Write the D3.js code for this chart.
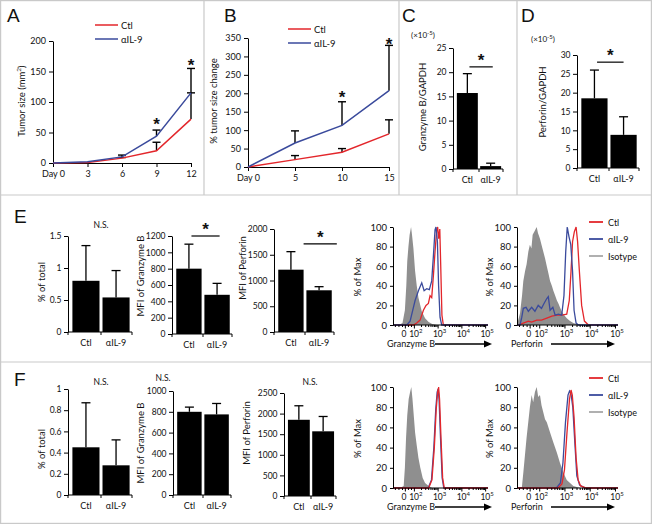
<!DOCTYPE html>
<html><head><meta charset="utf-8">
<script src="https://cdn.jsdelivr.net/npm/d3@7"></script>
<style>
body{margin:0;background:#fff}
svg{display:block}
text{font-family:Lato,'Open Sans',sans-serif;fill:#111}
</style>
</head><body><svg id="c" width="652" height="524"></svg>
<script>
// ---------- DATA ----------
const seriesNames = ["Ctl", "αIL-9", "Isotype"];
// Panel A
const daysA = [0, 3, 6, 9, 12];
const tumorCtl = [0, 1, 8, 20, 72];
const tumorCtlErr = [0, 1, 9, 34, 115];
const tumorIL9 = [0, 2, 10, 44, 115];
const tumorIL9Err = [0, 2, 13, 54, 155];
const tumorStars = [[9, 74], [12, 170]];
const tumorTicks = [0, 50, 100, 150, 200];
// Panel B
const daysB = [0, 5, 10, 15];
const pctCtl = [0, 20, 40, 90];
const pctCtlErr = [0, 31, 50, 128];
const pctIL9 = [0, 65, 113, 207];
const pctIL9Err = [0, 98, 177, 330];
const pctStars = [[10, 205], [15, 350]];
const pctTicks = [0, 50, 100, 150, 200, 250, 300, 350];
// Bar categories
const barCats = ["Ctl", "αIL-9"];
// Panel C
const gzmbGapdh = [15.7, 0.6];
const gzmbGapdhErr = [19.7, 1.2];
const gzmbGapdhTicks = [0, 5, 10, 15, 20, 25];
// Panel D
const perfGapdh = [18.5, 8.8];
const perfGapdhErr = [26, 13.6];
const perfGapdhTicks = [0, 5, 10, 15, 20, 25, 30];
// Panel E bars
const eTotal = [0.8, 0.54];
const eTotalErr = [1.35, 0.96];
const eTotalTicks = [0, 0.5, 1, 1.5];
const eGzmbMfi = [800, 480];
const eGzmbMfiErr = [1100, 620];
const gzmbMfiTicksE = [0, 200, 400, 600, 800, 1000, 1200];
const ePerfMfi = [1210, 810];
const ePerfMfiErr = [1560, 880];
const perfMfiTicksE = [0, 500, 1000, 1500, 2000];
// Panel F bars
const fTotal = [0.45, 0.28];
const fTotalErr = [0.87, 0.52];
const fTotalTicks = [0, 0.2, 0.4, 0.6, 0.8, 1];
const fGzmbMfi = [800, 775];
const fGzmbMfiErr = [845, 880];
const gzmbMfiTicksF = [0, 200, 400, 600, 800, 1000];
const fPerfMfi = [1850, 1570];
const fPerfMfiErr = [2190, 1930];
const perfMfiTicksF = [0, 500, 1000, 1500, 2000, 2500];
// Histograms: [log-display position, % of max]
const histTickPos = [1.62, 2, 3, 4, 5];
const histTickLbl = ["0", "2", "3", "4", "5"];
const histYTicks = [0, 20, 40, 60, 80, 100];
const eGzmbIso = [[1.35,0],[1.5,2],[1.6,15],[1.66,40],[1.7,65],[1.75,80],[1.8,92],[1.86,100],[1.9,92],[1.96,78],[2.03,55],[2.1,40],[2.17,28],[2.31,14],[2.45,7],[2.6,3],[2.75,1],[2.95,0]];
const eGzmbCtl = [[1.1,0],[1.96,0],[2.1,2],[2.24,5],[2.38,15],[2.49,20],[2.59,22],[2.66,30],[2.73,28],[2.8,50],[2.87,75],[2.94,97],[2.98,100],[3.02,88],[3.07,98],[3.11,60],[3.16,10],[3.22,0],[5.1,0]];
const eGzmbIL9 = [[1.1,0],[1.68,0],[1.82,4],[1.93,15],[2.03,25],[2.17,35],[2.31,43],[2.41,35],[2.52,37],[2.63,36],[2.73,45],[2.8,70],[2.87,97],[2.91,100],[2.97,85],[3.02,40],[3.08,8],[3.15,0],[5.1,0]];
const ePerfIso = [[1.09,0],[1.15,5],[1.22,12],[1.3,30],[1.35,45],[1.42,55],[1.48,62],[1.55,75],[1.61,82],[1.67,78],[1.72,92],[1.8,96],[1.88,100],[1.93,94],[2.01,88],[2.07,82],[2.14,75],[2.21,68],[2.28,60],[2.35,52],[2.41,45],[2.48,40],[2.54,35],[2.61,30],[2.68,25],[2.74,22],[2.8,18],[2.87,14],[2.94,11],[3.07,7],[3.2,4],[3.33,2],[3.46,1],[3.6,0]];
const ePerfCtl = [[1.1,0],[1.15,0],[1.35,2],[1.55,4],[1.68,3],[1.88,5],[2.07,5],[2.28,7],[2.48,9],[2.68,10],[2.87,10],[3.07,11],[3.17,25],[3.24,55],[3.3,85],[3.37,95],[3.44,100],[3.5,85],[3.57,55],[3.66,20],[3.77,4],[3.93,0],[5.1,0]];
const ePerfIL9 = [[1.1,0],[1.22,0],[1.29,8],[1.35,17],[1.46,18],[1.55,14],[1.68,18],[1.81,14],[1.94,20],[2.07,17],[2.17,22],[2.28,27],[2.34,29],[2.41,15],[2.52,18],[2.61,10],[2.74,11],[2.87,10],[2.96,30],[3.03,75],[3.09,100],[3.16,90],[3.23,82],[3.3,55],[3.36,15],[3.44,2],[3.53,0],[5.1,0]];
const fGzmbIso = [[1.4,0],[1.55,2],[1.6,20],[1.65,50],[1.7,72],[1.76,88],[1.82,95],[1.87,100],[1.92,88],[1.98,70],[2.03,55],[2.1,42],[2.17,30],[2.25,20],[2.35,10],[2.45,5],[2.6,2],[2.75,0]];
const fGzmbCtl = [[1.1,0],[2.6,0],[2.74,8],[2.84,40],[2.92,78],[2.98,95],[3.02,100],[3.06,88],[3.12,50],[3.19,10],[3.26,0],[5.1,0]];
const fGzmbIL9 = [[1.1,0],[2.58,0],[2.72,8],[2.82,40],[2.9,78],[2.96,95],[3.0,98],[3.04,88],[3.1,50],[3.17,10],[3.24,0],[5.1,0]];
const fPerfIso = [[1.29,0],[1.35,15],[1.48,50],[1.61,80],[1.68,92],[1.74,85],[1.81,95],[1.88,100],[1.94,90],[2.01,92],[2.07,82],[2.14,75],[2.21,68],[2.28,65],[2.41,55],[2.54,45],[2.68,35],[2.8,25],[2.94,15],[3.07,8],[3.2,5],[3.33,2],[3.6,0]];
const fPerfCtl = [[1.1,0],[2.72,0],[2.88,4],[2.98,18],[3.08,55],[3.18,88],[3.24,97],[3.29,92],[3.36,70],[3.44,30],[3.52,8],[3.62,2],[3.85,0],[5.1,0]];
const fPerfIL9 = [[1.1,0],[2.66,0],[2.82,5],[2.92,25],[3.02,65],[3.12,92],[3.18,96],[3.24,93],[3.31,80],[3.39,45],[3.47,12],[3.58,3],[3.8,0],[5.1,0]];

// ---------- STYLE ----------
const RED = "#e3262b", BLUE = "#3a4a9c", GRAY = "#8f8f8f", FRAME = "#c9c9c9";
const TICK_FS = 8.5;
const svg = d3.select("#c");
svg.append("rect").attr("width", 652).attr("height", 524).attr("fill", "#fff");

function styleAxis(g, fs) {
  g.select(".domain").attr("stroke", "#000").attr("stroke-width", 1);
  g.selectAll(".tick line").attr("stroke", "#000");
  g.selectAll(".tick text").attr("font-size", fs);
}
function label(x, y, txt, opts = {}) {
  const t = svg.append("text").attr("x", x).attr("y", y).text(txt)
    .attr("font-size", opts.fs || 9.5).attr("text-anchor", opts.anchor || "middle");
  return t;
}
function rotLabel(x, y, txt, fs) {
  svg.append("text").attr("transform", `translate(${x},${y}) rotate(-90)`)
    .attr("text-anchor", "middle").attr("dy", "0.35em").attr("font-size", fs || 9.5).text(txt);
}
function panelLetter(x, y, t) {
  svg.append("text").attr("x", x).attr("y", y).text(t).attr("font-size", 19)
    .style("font-family", "'Liberation Sans',Arial,sans-serif");
}
function star(x, y) {
  svg.append("text").attr("x", x).attr("y", y).attr("dy", "0.7em").attr("text-anchor", "middle")
    .attr("font-size", 17).attr("font-weight", "bold").text("*")
    .style("font-family", "'Liberation Sans',Arial,sans-serif");
}
const fmt = d => String(d);

// ---------- FRAMES ----------
const frame = svg.append("g").attr("stroke", FRAME).attr("stroke-width", 1.2).attr("fill", "none");
frame.append("rect").attr("x", 0.6).attr("y", 0.6).attr("width", 650.8).attr("height", 522.8);
[[204, 0, 204, 195], [399, 0, 399, 195], [517, 0, 517, 195], [0, 195, 652, 195], [0, 362, 652, 362]]
  .forEach(l => frame.append("line").attr("x1", l[0]).attr("y1", l[1]).attr("x2", l[2]).attr("y2", l[3]));

// ---------- LINE CHARTS ----------
function lineChart(c) {
  const x = d3.scaleLinear().domain([0, d3.max(c.days)]).range([c.x0, c.x1]);
  const y = d3.scaleLinear().domain([0, c.ymax]).range([c.yb, c.yt]);
  const gy = svg.append("g").attr("transform", `translate(${c.x0},0)`)
    .call(d3.axisLeft(y).tickValues(c.ticks).tickSize(4).tickSizeOuter(0).tickPadding(3).tickFormat(fmt));
  styleAxis(gy, 9);
  const gx = svg.append("g").attr("transform", `translate(0,${c.yb})`)
    .call(d3.axisBottom(x).tickValues(c.days).tickSize(4).tickSizeOuter(0).tickPadding(4)
      .tickFormat(d => d === 0 ? "Day 0" : d));
  styleAxis(gx, 9);
  const eb = svg.append("g").attr("stroke", "#000").attr("stroke-width", 1.4);
  [[c.ctl, c.ctlErr], [c.il9, c.il9Err]].forEach(([v, e]) => {
    c.days.forEach((d, i) => {
      if (e[i] - v[i] < 0.8) return;
      eb.append("line").attr("x1", x(d)).attr("x2", x(d)).attr("y1", y(v[i])).attr("y2", y(e[i]));
      eb.append("line").attr("x1", x(d) - 4).attr("x2", x(d) + 4).attr("y1", y(e[i])).attr("y2", y(e[i]));
    });
  });
  const line = vals => d3.line().x((d, i) => x(c.days[i])).y(d => y(d))(vals);
  svg.append("path").attr("d", line(c.ctl)).attr("fill", "none").attr("stroke", RED).attr("stroke-width", 1.5);
  svg.append("path").attr("d", line(c.il9)).attr("fill", "none").attr("stroke", BLUE).attr("stroke-width", 1.5);
  c.stars.forEach(s => star(x(s[0]), y(s[1])));
  [[RED, seriesNames[0], c.ly], [BLUE, seriesNames[1], c.ly + 14]].forEach(([col, name, yy]) => {
    svg.append("line").attr("x1", c.lx).attr("x2", c.lx + 23).attr("y1", yy).attr("y2", yy)
      .attr("stroke", col).attr("stroke-width", 1.5);
    label(c.lx + 26, yy + 3.5, name, { anchor: "start" });
  });
  if (c.ylabel) rotLabel(c.ylx, c.yly, c.ylabel);
}

lineChart({ days: daysA, ctl: tumorCtl, ctlErr: tumorCtlErr, il9: tumorIL9, il9Err: tumorIL9Err,
  stars: tumorStars, ticks: tumorTicks, ymax: 200, x0: 53, x1: 191, yb: 163, yt: 41,
  lx: 95, ly: 25, ylx: 22, yly: 101, ylabel: "" });
(() => {
  const t = svg.append("text").attr("transform", "translate(22,101) rotate(-90)")
    .attr("text-anchor", "middle").attr("dy", "0.35em").attr("font-size", 9.5);
  t.append("tspan").text("Tumor size (mm");
  t.append("tspan").attr("dy", -4).attr("font-size", 6.5).text("2");
  t.append("tspan").attr("dy", 4).text(")");
})();
lineChart({ days: daysB, ctl: pctCtl, ctlErr: pctCtlErr, il9: pctIL9, il9Err: pctIL9Err,
  stars: pctStars, ticks: pctTicks, ymax: 350, x0: 248, x1: 389, yb: 167, yt: 38,
  lx: 288, ly: 29, ylx: 214, yly: 101, ylabel: "% tumor size change" });

// ---------- BAR CHARTS ----------
function barChart(c) {
  const y = d3.scaleLinear().domain([0, c.ymax]).range([c.yb, c.yt]);
  const x = d3.scaleBand().domain(barCats).range([c.x0 + 2, c.x1]).paddingInner(c.pin ?? 0.1).paddingOuter(c.pout ?? 0.08);
  const gy = svg.append("g").attr("transform", `translate(${c.x0},0)`)
    .call(d3.axisLeft(y).tickValues(c.ticks).tickSize(4).tickSizeOuter(0).tickPadding(2.5).tickFormat(fmt));
  styleAxis(gy, TICK_FS);
  svg.selectAll(null).data(barCats).enter().append("rect")
    .attr("x", d => x(d)).attr("width", x.bandwidth())
    .attr("y", (d, i) => y(c.vals[i])).attr("height", (d, i) => c.yb - y(c.vals[i])).attr("fill", "#000");
  const eb = svg.append("g").attr("stroke", "#000").attr("stroke-width", 1.3);
  barCats.forEach((d, i) => {
    const cx = x(d) + x.bandwidth() / 2;
    eb.append("line").attr("x1", cx).attr("x2", cx).attr("y1", y(c.vals[i])).attr("y2", y(c.errs[i]));
    eb.append("line").attr("x1", cx - 4.5).attr("x2", cx + 4.5).attr("y1", y(c.errs[i])).attr("y2", y(c.errs[i]));
  });
  const ax = svg.append("g").attr("stroke", "#000").attr("stroke-width", 1);
  ax.append("line").attr("x1", c.x0).attr("x2", c.x1).attr("y1", c.yb).attr("y2", c.yb);
  [c.x0, (x("Ctl") + x.bandwidth() + x("αIL-9")) / 2, c.x1].forEach(t =>
    ax.append("line").attr("x1", t).attr("x2", t).attr("y1", c.yb).attr("y2", c.yb + 3));
  barCats.forEach(d => label(x(d) + x.bandwidth() / 2, c.yb + 14, d, { fs: 9 }));
  rotLabel(c.ylx, c.yly, c.ylabel);
  if (c.sig) {
    const xa = x("Ctl") + x.bandwidth() * (c.sigA ?? 0.6), xb = x("αIL-9") + x.bandwidth() * (c.sigB ?? 0.6);
    svg.append("line").attr("x1", xa).attr("x2", xb).attr("y1", y(c.sig)).attr("y2", y(c.sig))
      .attr("stroke", "#000").attr("stroke-width", 1.2);
    star((xa + xb) / 2, y(c.sig) - 13);
  }
  if (c.ns) label((c.nsx ?? (x.range()[0] + x.range()[1]) / 2), y(c.ns), "N.S.", { fs: 8.5 });
}

barChart({ vals: gzmbGapdh, errs: gzmbGapdhErr, ticks: gzmbGapdhTicks, ymax: 25, x0: 453, x1: 503, yb: 169, yt: 48,
  ylx: 423, yly: 107, ylabel: "Granzyme B/GAPDH", sig: 21.1, sigA: 0.6, sigB: 0.6 });
barChart({ vals: perfGapdh, errs: perfGapdhErr, ticks: perfGapdhTicks, ymax: 30, x0: 577, x1: 639, yb: 168, yt: 55,
  ylx: 543, yly: 102, ylabel: "Perforin/GAPDH", sig: 28.1, sigA: 0.6, sigB: 0.5 });
barChart({ vals: eTotal, errs: eTotalErr, ticks: eTotalTicks, ymax: 1.5, x0: 68, x1: 132, yb: 332, yt: 236,
  ylx: 42, yly: 282, ylabel: "% of total", ns: 1.63 });
barChart({ vals: eGzmbMfi, errs: eGzmbMfiErr, ticks: gzmbMfiTicksE, ymax: 1200, x0: 172, x1: 232, yb: 334, yt: 236,
  ylx: 141, yly: 276, ylabel: "MFI of Granzyme B", sig: 1200, sigA: 0.6, sigB: 0.6 });
barChart({ vals: ePerfMfi, errs: ePerfMfiErr, ticks: perfMfiTicksE, ymax: 2000, x0: 274, x1: 334, yb: 332, yt: 229,
  ylx: 243, yly: 268, ylabel: "MFI of Perforin", sig: 1710, sigA: 1.0, sigB: 1.2 });
barChart({ vals: fTotal, errs: fTotalErr, ticks: fTotalTicks, ymax: 1, x0: 68, x1: 132, yb: 495, yt: 389,
  ylx: 42, yly: 449, ylabel: "% of total", ns: 1.04 });
barChart({ vals: fGzmbMfi, errs: fGzmbMfiErr, ticks: gzmbMfiTicksF, ymax: 1000, x0: 173, x1: 231, yb: 495, yt: 391,
  ylx: 141, yly: 443, ylabel: "MFI of Granzyme B", ns: 1100, nsx: 163 });
barChart({ vals: fPerfMfi, errs: fPerfMfiErr, ticks: perfMfiTicksF, ymax: 2500, x0: 284, x1: 336, yb: 496, yt: 393,
  ylx: 247, yly: 433, ylabel: "MFI of Perforin", ns: 2700, nsx: 310 });

[[423, 38], [543, 42]].forEach(([xx, yy]) => {
  const t = svg.append("text").attr("x", xx).attr("y", yy).attr("text-anchor", "middle").attr("font-size", 8);
  t.append("tspan").text("(×10");
  t.append("tspan").attr("dy", -3).attr("font-size", 6).text("-5");
  t.append("tspan").attr("dy", 3).text(")");
});

// ---------- HISTOGRAMS ----------
function hist(c) {
  const x = d3.scaleLinear().domain([1.1, 5.1]).range([c.x0, c.x1]);
  const y = d3.scaleLinear().domain([0, 100]).range([c.yb, c.yt]);
  svg.append("path").datum(c.iso)
    .attr("d", d3.area().x(d => x(d[0])).y0(c.yb).y1(d => y(d[1])))
    .attr("fill", GRAY);
  const ln = d3.line().x(d => x(d[0])).y(d => y(d[1]));
  const order = c.redTop ? [[c.il9, BLUE], [c.ctl, RED]] : [[c.ctl, RED], [c.il9, BLUE]];
  order.forEach(([d, col]) => svg.append("path").attr("d", ln(d)).attr("fill", "none")
    .attr("stroke", col).attr("stroke-width", 1.3));
  const gy = svg.append("g").attr("transform", `translate(${c.x0},0)`)
    .call(d3.axisLeft(y).tickValues(histYTicks).tickSize(3).tickSizeOuter(0).tickPadding(3).tickFormat(fmt));
  styleAxis(gy, 9.5);
  const ax = svg.append("g").attr("stroke", "#000").attr("stroke-width", 1);
  ax.append("line").attr("x1", c.x0).attr("x2", c.x1).attr("y1", c.yb).attr("y2", c.yb);
  const minor = [1.2, 1.35, 1.5, 1.75, 1.88];
  [2, 3, 4].forEach(n => d3.range(2, 10).forEach(k => minor.push(n + Math.log10(k))));
  minor.forEach(m => ax.append("line").attr("x1", x(m)).attr("x2", x(m)).attr("y1", c.yb).attr("y2", c.yb + 2));
  histTickPos.forEach(p => ax.append("line").attr("x1", x(p)).attr("x2", x(p)).attr("y1", c.yb).attr("y2", c.yb + 3.5));
  histTickPos.forEach((p, i) => {
    const t = svg.append("text").attr("x", x(p) + (i === 0 ? -1.5 : 1.5)).attr("y", c.yb + 12)
      .attr("text-anchor", "middle").attr("font-size", 8.5);
    if (i === 0) { t.text(histTickLbl[i]); return; }
    t.append("tspan").text("10");
    t.append("tspan").attr("dy", -4).attr("font-size", 6).text(histTickLbl[i]);
  });
  label(c.x0 - 6, c.yb + 22, c.xlabel, { anchor: "start", fs: 9 });
  svg.append("line").attr("x1", c.ax0).attr("x2", c.ax1 - 6).attr("y1", c.yb + 19).attr("y2", c.yb + 19)
    .attr("stroke", "#000").attr("stroke-width", 1.3);
  svg.append("path").attr("d", `M${c.ax1},${c.yb + 19} l-8,-3.5 l0,7 z`).attr("fill", "#000");
  rotLabel(c.ylx, (c.yb + c.yt) / 2 + 1, "% of Max");
  if (c.legend) {
    [[RED, seriesNames[0]], [BLUE, seriesNames[1]], ["#a8a8a8", seriesNames[2]]].forEach(([col, name], i) => {
      const yy = c.legend + i * c.lstep;
      svg.append("line").attr("x1", 589).attr("x2", 603).attr("y1", yy).attr("y2", yy)
        .attr("stroke", col).attr("stroke-width", 1.8);
      label(608, yy + 3.5, name, { anchor: "start", fs: 9 });
    });
  }
}
hist({ iso: eGzmbIso, ctl: eGzmbCtl, il9: eGzmbIL9, x0: 393, x1: 488, yb: 325, yt: 227, ylx: 358,
  xlabel: "Granzyme B", ax0: 435, ax1: 492 });
hist({ iso: ePerfIso, ctl: ePerfCtl, il9: ePerfIL9, x0: 517, x1: 618, yb: 325, yt: 227, ylx: 490,
  xlabel: "Perforin", ax0: 551, ax1: 615, legend: 222, lstep: 17 });
hist({ iso: fGzmbIso, ctl: fGzmbCtl, il9: fGzmbIL9, x0: 393, x1: 488, yb: 488, yt: 387, ylx: 358,
  xlabel: "Granzyme B", ax0: 435, ax1: 492, redTop: true });
hist({ iso: fPerfIso, ctl: fPerfCtl, il9: fPerfIL9, x0: 517, x1: 618, yb: 488, yt: 387, ylx: 490,
  xlabel: "Perforin", ax0: 551, ax1: 615, legend: 378, lstep: 17, redTop: true });

panelLetter(7, 22, "A"); panelLetter(224, 22, "B"); panelLetter(402, 22, "C"); panelLetter(521, 22, "D");
panelLetter(14, 223, "E"); panelLetter(14, 386, "F");
</script></body></html>
